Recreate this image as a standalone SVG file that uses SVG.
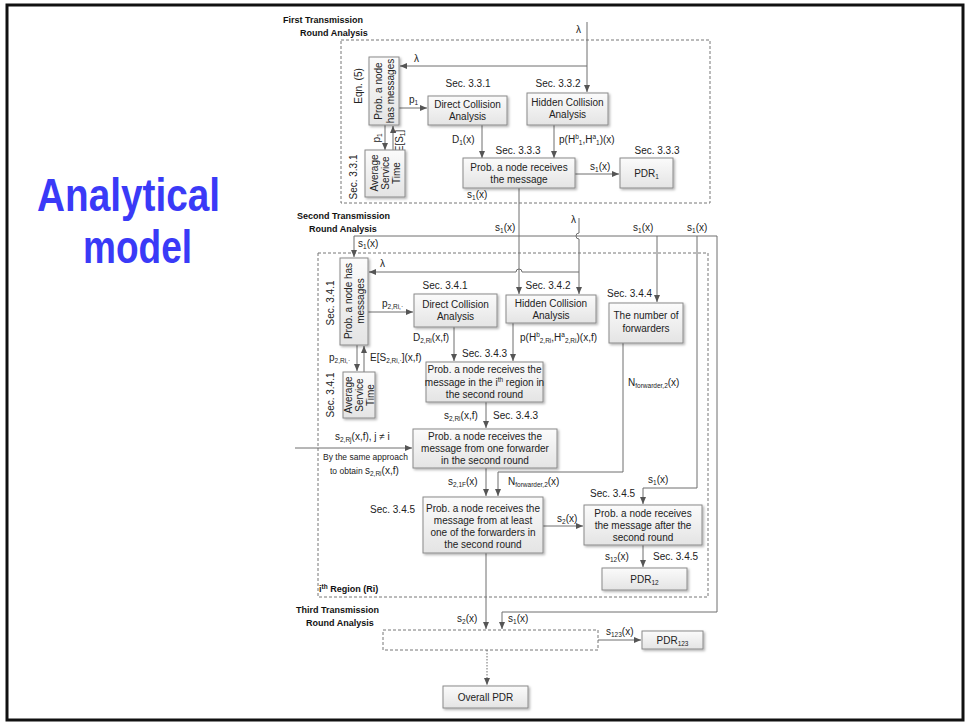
<svg xmlns="http://www.w3.org/2000/svg" width="968" height="723" viewBox="0 0 968 723">
<defs>
  <linearGradient id="boxFill" x1="0" y1="0" x2="0" y2="1">
    <stop offset="0" stop-color="#fbfbfb"/>
    <stop offset="1" stop-color="#e4e4e4"/>
  </linearGradient>
  <filter id="shadow" x="-10%" y="-10%" width="130%" height="140%">
    <feDropShadow dx="1.5" dy="1.5" stdDeviation="0.8" flood-color="#000" flood-opacity="0.3"/>
  </filter>
  <marker id="arr" markerWidth="7" markerHeight="6" refX="7" refY="3" orient="auto" markerUnits="userSpaceOnUse">
    <path d="M0,0 L7,3 L0,6 z" fill="#555"/>
  </marker>
  <style>
    .box { fill: url(#boxFill); stroke: #8a8a8a; stroke-width: 1; filter: url(#shadow); }
    .dash { fill: none; stroke: #777; stroke-width: 1; stroke-dasharray: 3 2; }
    .ln { fill: none; stroke: #6e6e6e; stroke-width: 1; }
    .ar { marker-end: url(#arr); }
    .dot { stroke-dasharray: 1.5 1.5; }
    text { font-family: "Liberation Sans", Arial, sans-serif; font-size: 10px; fill: #222; }
    .c { text-anchor: middle; }
    .hd { font-weight: bold; font-size: 9px; fill: #111; }
    .sm { font-size: 8.5px; }
    .sb { font-size: 6.5px; }
    .title { font-family: "Liberation Sans", Arial, sans-serif; font-weight: bold; font-size: 46px; fill: #3a3af7; }
  </style>
</defs>

<!-- slide frame -->
<rect x="7" y="5" width="956" height="715" fill="#fff" stroke="#111" stroke-width="3"/>

<!-- slide title -->
<text class="title" x="37" y="211" textLength="183" lengthAdjust="spacingAndGlyphs">Analytical</text>
<text class="title" x="83" y="263" textLength="109" lengthAdjust="spacingAndGlyphs">model</text>

<!-- round frames -->
<g id="round1-frame">
  <rect class="dash" x="341" y="40" width="369" height="163"/>
  <text class="hd" x="283" y="23">First Transmission</text>
  <text class="hd" x="300" y="36">Round Analysis</text>
</g>
<g id="round2-frame">
  <rect class="dash" x="318" y="253" width="390" height="344"/>
  <text class="hd" x="297" y="219">Second Transmission</text>
  <text class="hd" x="309" y="232">Round Analysis</text>
  <text class="hd" x="319" y="592">i<tspan class="sb" dy="-3">th</tspan><tspan dy="3"> Region  (Ri)</tspan></text>
</g>
<g id="round3-frame">
  <rect class="dash" x="383" y="630" width="215" height="20"/>
  <text class="hd" x="296" y="613">Third  Transmission</text>
  <text class="hd" x="306" y="626">Round Analysis</text>
</g>

<!-- connectors -->
<g id="connectors">
  <!-- first round -->
  <path class="ln ar" d="M587,22 V92"/>
  <path class="ln ar" d="M587,66 H400"/>
  <path class="ln ar" d="M385,125 V150"/>
  <path class="ln ar" d="M393,150 V126"/>
  <path class="ln ar" d="M399,108 H427"/>
  <path class="ln ar" d="M482,125 V158"/>
  <path class="ln ar" d="M554,125 V158"/>
  <path class="ln ar" d="M575,174 H619"/>
  <path class="ln ar" d="M519,188 V294"/>
  <!-- s1(x) distribution into the second round -->
  <path class="ln" d="M354,236 H717 V612 H502"/>
  <path class="ln ar" d="M354,236 V257"/>
  <path class="ln ar" d="M502,612 V629"/>
  <path class="ln ar" d="M657,236 V302"/>
  <path class="ln ar" d="M697,236 V488 H643 V504"/>
  <!-- lambda into the second round, hopping over crossings -->
  <path class="ln ar" d="M579,218 V233 a3,3 0 0 0 0,6 V294"/>
  <path class="ln ar" d="M579,272 H522 a3,3 0 0 0 -6,0 H369"/>
  <!-- second round -->
  <path class="ln ar" d="M368,312 H413"/>
  <path class="ln ar" d="M357,345 V371"/>
  <path class="ln ar" d="M364,372 V346"/>
  <path class="ln ar" d="M454,327 V361"/>
  <path class="ln ar" d="M513,323 V361"/>
  <path class="ln ar" d="M486,402 V428"/>
  <path class="ln ar" d="M295,448 H412"/>
  <path class="ln ar" d="M486,468 V496"/>
  <path class="ln ar" d="M623,343 V472 H498 V496"/>
  <path class="ln ar" d="M543,526 H583"/>
  <path class="ln ar" d="M643,545 V567"/>
  <path class="ln ar" d="M486,553 V629"/>
  <!-- third round -->
  <path class="ln ar" d="M598,640 H641"/>
  <path class="ln ar dot" d="M487,650 V685"/>
</g>

<!-- connector labels -->
<g id="labels">
  <text x="576" y="33">λ</text>
  <text x="414" y="62">λ</text>
  <text x="409" y="103">p<tspan class="sb" dy="2">1</tspan></text>
  <text transform="translate(380,138) rotate(-90)" class="c">p<tspan class="sb" dy="2">1</tspan></text>
  <text transform="translate(403,141) rotate(-90)" class="c">E[S<tspan class="sb" dy="2">1</tspan><tspan dy="-2">]</tspan></text>
  <text x="452" y="143">D<tspan class="sb" dy="2">1</tspan><tspan dy="-2">(x)</tspan></text>
  <text x="559" y="143">p(H<tspan class="sb" dy="-4">b</tspan><tspan class="sb" dy="6">1</tspan><tspan dy="-2">,H</tspan><tspan class="sb" dy="-4">a</tspan><tspan class="sb" dy="6">1</tspan><tspan dy="-2">)(x)</tspan></text>
  <text x="590" y="170">s<tspan class="sb" dy="2">1</tspan><tspan dy="-2">(x)</tspan></text>
  <text x="467" y="198">s<tspan class="sb" dy="2">1</tspan><tspan dy="-2">(x)</tspan></text>

  <text x="495" y="231">s<tspan class="sb" dy="2">1</tspan><tspan dy="-2">(x)</tspan></text>
  <text x="571" y="223">λ</text>
  <text x="633" y="231">s<tspan class="sb" dy="2">1</tspan><tspan dy="-2">(x)</tspan></text>
  <text x="687" y="231">s<tspan class="sb" dy="2">1</tspan><tspan dy="-2">(x)</tspan></text>
  <text x="358" y="247">s<tspan class="sb" dy="2">1</tspan><tspan dy="-2">(x)</tspan></text>
  <text x="380" y="267">λ</text>
  <text x="382" y="307">p<tspan class="sb" dy="2">2,Ri,·</tspan></text>
  <text x="413" y="341">D<tspan class="sb" dy="2">2,Ri</tspan><tspan dy="-2">(x,f)</tspan></text>
  <text x="520" y="341">p(H<tspan class="sb" dy="-4">b</tspan><tspan class="sb" dy="6">2,Ri</tspan><tspan dy="-2">,H</tspan><tspan class="sb" dy="-4">a</tspan><tspan class="sb" dy="6">2,Ri</tspan><tspan dy="-2">)(x,f)</tspan></text>
  <text x="329" y="361">p<tspan class="sb" dy="2">2,Ri,·</tspan></text>
  <text x="370" y="361">E[S<tspan class="sb" dy="2">2,Ri,·</tspan><tspan dy="-2">](x,f)</tspan></text>
  <text x="628" y="386">N<tspan class="sb" dy="2">forwarder,2</tspan><tspan dy="-2">(x)</tspan></text>
  <text x="444" y="419">s<tspan class="sb" dy="2">2,Ri</tspan><tspan dy="-2">(x,f)</tspan></text>
  <text x="335" y="440">s<tspan class="sb" dy="2">2,Rj</tspan><tspan dy="-2">(x,f), j ≠ i</tspan></text>
  <text class="sm" x="323" y="460">By the same approach</text>
  <text class="sm" x="330" y="474">to obtain <tspan font-size="10px">s</tspan><tspan class="sb" dy="2">2,Ri</tspan><tspan font-size="10px" dy="-2">(x,f)</tspan></text>
  <text x="448" y="485">s<tspan class="sb" dy="2">2,1F</tspan><tspan dy="-2">(x)</tspan></text>
  <text x="508" y="485">N<tspan class="sb" dy="2">forwarder,2</tspan><tspan dy="-2">(x)</tspan></text>
  <text x="648" y="483">s<tspan class="sb" dy="2">1</tspan><tspan dy="-2">(x)</tspan></text>
  <text x="557" y="522">s<tspan class="sb" dy="2">2</tspan><tspan dy="-2">(x)</tspan></text>
  <text x="605" y="560">s<tspan class="sb" dy="2">12</tspan><tspan dy="-2">(x)</tspan></text>

  <text x="457" y="622">s<tspan class="sb" dy="2">2</tspan><tspan dy="-2">(x)</tspan></text>
  <text x="508" y="622">s<tspan class="sb" dy="2">1</tspan><tspan dy="-2">(x)</tspan></text>
  <text x="606" y="635">s<tspan class="sb" dy="2">123</tspan><tspan dy="-2">(x)</tspan></text>
</g>

<!-- section references -->
<g id="sections">
  <text transform="translate(362,86) rotate(-90)" class="c">Eqn. (5)</text>
  <text transform="translate(357,177) rotate(-90)" class="c">Sec. 3.3.1</text>
  <text class="c" x="468" y="87">Sec. 3.3.1</text>
  <text class="c" x="558" y="87">Sec. 3.3.2</text>
  <text class="c" x="518" y="154">Sec. 3.3.3</text>
  <text class="c" x="657" y="154">Sec. 3.3.3</text>
  <text transform="translate(334,303) rotate(-90)" class="c">Sec. 3.4.1</text>
  <text transform="translate(334,395) rotate(-90)" class="c">Sec. 3.4.1</text>
  <text class="c" x="445" y="289">Sec. 3.4.1</text>
  <text class="c" x="548" y="289">Sec. 3.4.2</text>
  <text x="607" y="297">Sec. 3.4.4</text>
  <text x="462" y="357">Sec. 3.4.3</text>
  <text x="493" y="419">Sec. 3.4.3</text>
  <text x="370" y="513">Sec. 3.4.5</text>
  <text x="590" y="497">Sec. 3.4.5</text>
  <text x="653" y="560">Sec. 3.4.5</text>
</g>

<!-- first round nodes -->
<g id="n-prob-msg-1">
  <rect class="box" x="369" y="57" width="30" height="68"/>
  <text transform="translate(384,91) rotate(-90)" class="c"><tspan x="0" y="-2.5">Prob. a node</tspan><tspan x="0" y="9.5">has messages</tspan></text>
</g>
<g id="n-service-1">
  <rect class="box" x="365" y="150" width="40" height="47"/>
  <text transform="translate(385,173) rotate(-90)" class="c"><tspan x="0" y="-7.5">Average</tspan><tspan x="0" y="3.5">Service</tspan><tspan x="0" y="14.5">Time</tspan></text>
</g>
<g id="n-direct-1">
  <rect class="box" x="428" y="96" width="79" height="29"/>
  <text class="c" x="467.5" y="108">Direct Collision</text>
  <text class="c" x="467.5" y="120">Analysis</text>
</g>
<g id="n-hidden-1">
  <rect class="box" x="527" y="93" width="81" height="32"/>
  <text class="c" x="567.5" y="106">Hidden Collision</text>
  <text class="c" x="567.5" y="118">Analysis</text>
</g>
<g id="n-receive-1">
  <rect class="box" x="463" y="158" width="112" height="30"/>
  <text class="c" x="519" y="171">Prob. a node receives</text>
  <text class="c" x="519" y="183">the message</text>
</g>
<g id="n-pdr1">
  <rect class="box" x="620" y="158" width="53" height="30"/>
  <text class="c" x="646.5" y="177">PDR<tspan class="sb" dy="2">1</tspan></text>
</g>

<!-- second round nodes -->
<g id="n-prob-msg-2">
  <rect class="box" x="340" y="258" width="28" height="87"/>
  <text transform="translate(354,301) rotate(-90)" class="c"><tspan x="0" y="-2.5">Prob. a node has</tspan><tspan x="0" y="9.5">messages</tspan></text>
</g>
<g id="n-service-2">
  <rect class="box" x="343" y="372" width="32" height="46"/>
  <text transform="translate(359,395) rotate(-90)" class="c"><tspan x="0" y="-7.5">Average</tspan><tspan x="0" y="3.5">Service</tspan><tspan x="0" y="14.5">Time</tspan></text>
</g>
<g id="n-direct-2">
  <rect class="box" x="414" y="294" width="83" height="33"/>
  <text class="c" x="455.5" y="308">Direct Collision</text>
  <text class="c" x="455.5" y="320">Analysis</text>
</g>
<g id="n-hidden-2">
  <rect class="box" x="506" y="295" width="90" height="28"/>
  <text class="c" x="551" y="307">Hidden Collision</text>
  <text class="c" x="551" y="319">Analysis</text>
</g>
<g id="n-forwarders">
  <rect class="box" x="609" y="303" width="74" height="40"/>
  <text class="c" x="646" y="319">The number of</text>
  <text class="c" x="646" y="332">forwarders</text>
</g>
<g id="n-receive-region">
  <rect class="box" x="426" y="362" width="117" height="40"/>
  <text class="c" x="484.5" y="373">Prob. a node receives the</text>
  <text class="c" x="484.5" y="386">message in the i<tspan class="sb" dy="-4">th</tspan><tspan dy="4"> region in</tspan></text>
  <text class="c" x="484.5" y="398">the second round</text>
</g>
<g id="n-receive-one">
  <rect class="box" x="413" y="429" width="144" height="39"/>
  <text class="c" x="485" y="440">Prob. a node receives the</text>
  <text class="c" x="485" y="452">message from one forwarder</text>
  <text class="c" x="485" y="464">in the second round</text>
</g>
<g id="n-receive-least">
  <rect class="box" x="423" y="497" width="120" height="56"/>
  <text class="c" x="483" y="512">Prob. a node receives the</text>
  <text class="c" x="483" y="524">message from at least</text>
  <text class="c" x="483" y="536">one of the forwarders in</text>
  <text class="c" x="483" y="548">the second round</text>
</g>
<g id="n-receive-after">
  <rect class="box" x="584" y="505" width="118" height="40"/>
  <text class="c" x="643" y="517">Prob. a node receives</text>
  <text class="c" x="643" y="529">the message after the</text>
  <text class="c" x="643" y="541">second round</text>
</g>
<g id="n-pdr12">
  <rect class="box" x="602" y="568" width="85" height="22"/>
  <text class="c" x="644.5" y="583">PDR<tspan class="sb" dy="2">12</tspan></text>
</g>

<!-- third round nodes -->
<g id="n-pdr123">
  <rect class="box" x="642" y="631" width="61" height="18"/>
  <text class="c" x="672.5" y="644">PDR<tspan class="sb" dy="2">123</tspan></text>
</g>
<g id="n-overall">
  <rect class="box" x="443" y="686" width="85" height="22"/>
  <text class="c" x="485.5" y="701">Overall PDR</text>
</g>
</svg>
